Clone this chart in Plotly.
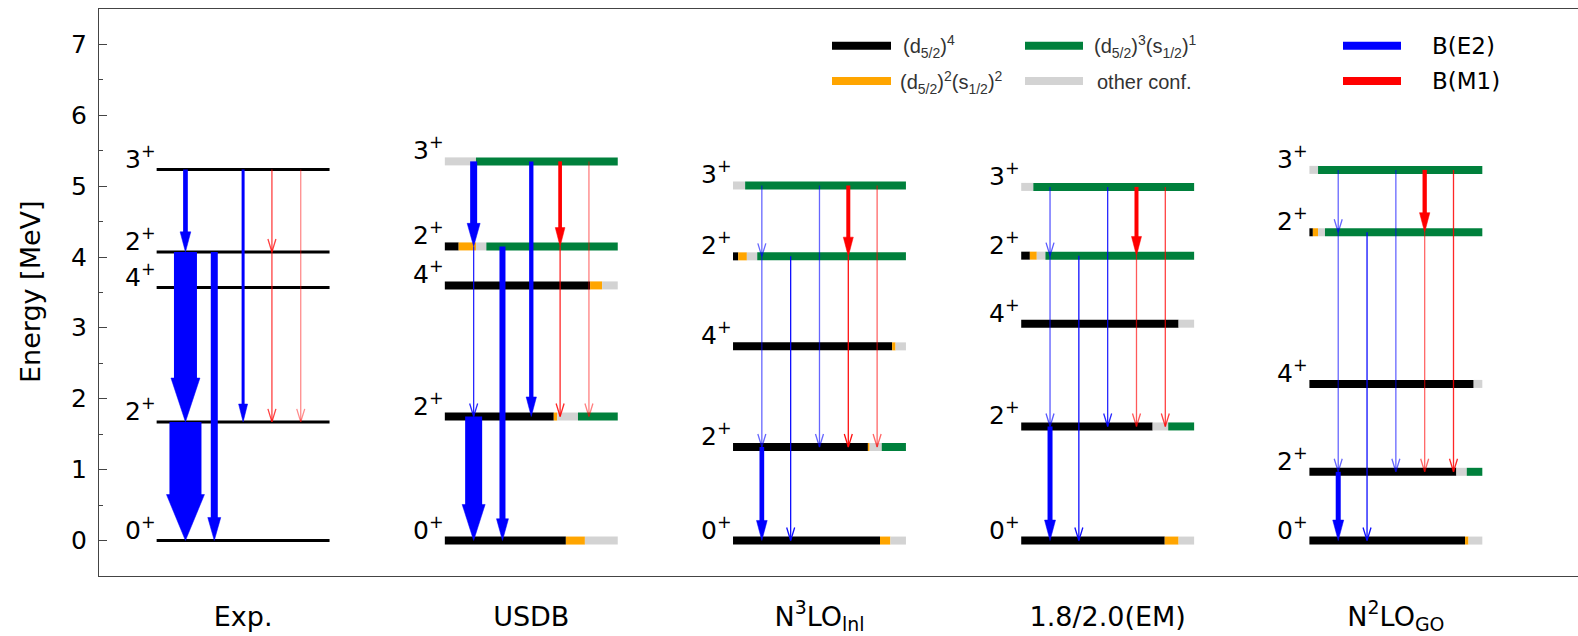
import plotly.graph_objects as go

# ---------------- data ----------------
columns = ["Exp.", "USDB", "N<sup>3</sup>LO<sub>lnl</sub>", "1.8/2.0(EM)", "N<sup>2</sup>LO<sub>GO</sub>"]
spins = ["0<sup>+</sup>", "2<sup>+</sup>", "4<sup>+</sup>", "2<sup>+</sup>", "3<sup>+</sup>"]

# level energies [MeV]: 0+, 2+_1, 4+, 2+_2, 3+
energy_exp = [0.0, 1.674, 3.570, 4.072, 5.235]
energy_usdb = [0.0, 1.75, 3.60, 4.15, 5.35]
energy_n3lo = [0.0, 1.32, 2.74, 4.01, 5.01]
energy_em = [0.0, 1.61, 3.06, 4.02, 4.99]
energy_n2lo = [0.0, 0.97, 2.21, 4.35, 5.23]

# configuration content (%) for theory columns (USDB, N3LO, EM, N2LO), per level
conf_d4 = [[70, 63, 84, 8, 0], [85, 78, 92, 3, 0], [83, 76, 91, 5, 0], [90, 85, 95, 2, 0]]
conf_d2s2 = [[11, 2, 7, 10, 0], [6, 1, 2, 5, 0], [8, 0, 0, 4, 0], [2, 0, 0, 3, 0]]
conf_other = [[19, 12, 9, 6, 18], [9, 7, 6, 6, 7], [9, 9, 9, 5, 7], [8, 6, 5, 4, 5]]
conf_d3s1 = [[0, 23, 0, 76, 82], [0, 14, 0, 86, 93], [0, 15, 0, 86, 93], [0, 9, 0, 91, 95]]

# transitions (from level, to level, type) and relative strengths per column
trans_from = [4, 3, 1, 3, 4, 4, 3, 4]
trans_to = [3, 1, 0, 0, 1, 3, 1, 1]
trans_type = ["E2", "E2", "E2", "E2", "E2", "M1", "M1", "M1"]
strength = [
    [4.7, 7.0, 0.6, 0.65, 0.6],    # 3+ -> 2+_2 E2
    [23.0, 0.85, 0.6, 0.65, 0.6],  # 2+_2 -> 2+_1 E2
    [32.0, 17.0, 4.7, 5.0, 5.0],   # 2+_1 -> 0+ E2
    [7.0, 6.0, 0.95, 0.95, 0.95],  # 2+_2 -> 0+ E2
    [3.0, 4.3, 0.6, 0.85, 0.6],    # 3+ -> 2+_1 E2
    [0.75, 3.7, 4.0, 4.0, 4.3],    # 3+ -> 2+_2 M1
    [0.75, 0.85, 0.95, 0.65, 0.6], # 2+_2 -> 2+_1 M1
    [0.45, 0.5, 0.6, 0.75, 0.85],  # 3+ -> 2+_1 M1
]
y_ticks = [0, 1, 2, 3, 4, 5, 6, 7]

# ---------------- layout geometry ----------------
W, H = 1578, 636
ML, MR, MT, MB = 99, 0, 9, 60
XR = [-0.5, 4.632]
YR = [-0.5, 7.5]
PXX = (W - ML - MR) / (XR[1] - XR[0])
PXY = (H - MT - MB) / (YR[1] - YR[0])
HALF = 0.3
slot_of = [1, 1, 1, 2, 3, 4, 4, 5]

conf_colors = ["#000000", "#ffa500", "#d3d3d3", "#00803c"]
energies = [energy_exp, energy_usdb, energy_n3lo, energy_em, energy_n2lo]

fig = go.Figure()


def seg(x0, x1, y, color, width):
    fig.add_trace(go.Scatter(x=[x0, x1], y=[y, y], mode="lines",
                             line=dict(color=color, width=width),
                             showlegend=False, hoverinfo="skip"))


# levels
for c, en in enumerate(energies):
    for li, e in enumerate(en):
        x0 = c - HALF
        if c == 0:
            seg(x0, c + HALF, e, "#000000", 3)
        else:
            fr = [conf_d4[c - 1][li], conf_d2s2[c - 1][li], conf_other[c - 1][li], conf_d3s1[c - 1][li]]
            tot = sum(fr)
            pos = x0
            for f, col in zip(fr, conf_colors):
                if f <= 0:
                    continue
                x1 = pos + 2 * HALF * f / tot
                seg(pos, x1, e, col, 8)
                pos = x1


def rgba(kind, a):
    return f"rgba(0,0,255,{a})" if kind == "E2" else f"rgba(255,0,0,{a})"


def arrow(x, y0, y1, kind, s):
    if s >= 1:
        w = s
        col = rgba(kind, 1)
        hw = (6 + w) / 2 / PXX
        hl = min(14 + 1.3 * w, 46) / PXY
        fig.add_trace(go.Scatter(x=[x, x], y=[y0, y1 + hl * 0.9], mode="lines",
                                 line=dict(color=col, width=w),
                                 showlegend=False, hoverinfo="skip"))
        fig.add_trace(go.Scatter(x=[x - hw, x + hw, x, x - hw], y=[y1 + hl, y1 + hl, y1, y1 + hl],
                                 mode="lines", fill="toself", fillcolor=col,
                                 line=dict(color=col, width=0.5),
                                 showlegend=False, hoverinfo="skip"))
    else:
        a = max(0.35, s)
        col = rgba(kind, a)
        hw = 4 / PXX
        hl = 13 / PXY
        fig.add_trace(go.Scatter(x=[x, x], y=[y0, y1], mode="lines",
                                 line=dict(color=col, width=1.3),
                                 showlegend=False, hoverinfo="skip"))
        fig.add_trace(go.Scatter(x=[x - hw, x, x + hw], y=[y1 + hl, y1, y1 + hl], mode="lines",
                                 line=dict(color=col, width=1.3),
                                 showlegend=False, hoverinfo="skip"))


for c, en in enumerate(energies):
    for t in range(len(trans_from)):
        x = c - HALF + slot_of[t] * (2 * HALF / 6)
        arrow(x, en[trans_from[t]], en[trans_to[t]], trans_type[t], strength[t][c])

annotations = []
# level labels
for c, en in enumerate(energies):
    for li, e in enumerate(en):
        annotations.append(dict(x=c - HALF, y=e, xref="x", yref="y", text=spins[li],
                                showarrow=False, xanchor="right", yanchor="bottom",
                                xshift=1, yshift=-6,
                                font=dict(family="DejaVu Sans", size=25, color="black")))

# y tick labels (placed just left of the axis line)
for v in y_ticks:
    annotations.append(dict(x=0, y=v, xref="paper", yref="y", text=str(v), showarrow=False,
                            xanchor="right", yanchor="middle", xshift=-10,
                            font=dict(family="DejaVu Sans", size=25, color="black")))


def pp(px, py):
    return (px - ML) / (W - ML - MR), (H - MB - py) / (H - MT - MB)


shapes = []
legend_conf = [
    ("(d<sub>5/2</sub>)<sup>4</sup>", conf_colors[0], 832, 891, 45.7, 901),
    ("(d<sub>5/2</sub>)<sup>3</sup>(s<sub>1/2</sub>)<sup>1</sup>", conf_colors[3], 1025, 1083, 45.7, 1092),
    ("(d<sub>5/2</sub>)<sup>2</sup>(s<sub>1/2</sub>)<sup>2</sup>", conf_colors[1], 832, 891, 81, 898),
    ("other conf.", conf_colors[2], 1025, 1083, 81, 1095),
]
for txt, col, a, b, yy, tx in legend_conf:
    x0, y0 = pp(a, yy)
    x1, _ = pp(b, yy)
    shapes.append(dict(type="line", xref="paper", yref="paper", x0=x0, x1=x1, y0=y0, y1=y0,
                       line=dict(color=col, width=8)))
    tx_, ty_ = pp(tx, yy + 1)
    annotations.append(dict(x=tx_, y=ty_, xref="paper", yref="paper", text=txt, showarrow=False,
                            xanchor="left", yanchor="middle",
                            font=dict(family="Liberation Sans", size=20, color="#333333")))

legend_tr = [("B(E2)", "#0000ff", 45.7), ("B(M1)", "#ff0000", 81)]
for txt, col, yy in legend_tr:
    x0, y0 = pp(1343, yy)
    x1, _ = pp(1401, yy)
    shapes.append(dict(type="line", xref="paper", yref="paper", x0=x0, x1=x1, y0=y0, y1=y0,
                       line=dict(color=col, width=8)))
    tx_, ty_ = pp(1430, yy)
    annotations.append(dict(x=tx_, y=ty_, xref="paper", yref="paper", text=txt, showarrow=False,
                            xanchor="left", yanchor="middle",
                            font=dict(family="DejaVu Sans", size=23, color="black")))

# y-axis title
tx_, ty_ = pp(30, 292)
annotations.append(dict(x=tx_, y=ty_, xref="paper", yref="paper", text="Energy [MeV]",
                        showarrow=False, textangle=-90, xanchor="center", yanchor="middle",
                        font=dict(family="DejaVu Sans", size=27, color="black")))

fig.update_layout(
    width=W, height=H,
    margin=dict(l=ML, r=MR, t=MT, b=MB, autoexpand=False),
    plot_bgcolor="white", paper_bgcolor="white",
    font=dict(family="DejaVu Sans", size=25, color="black"),
    showlegend=False,
    annotations=annotations,
    shapes=shapes,
    xaxis=dict(range=XR, tickvals=list(range(5)), ticktext=columns, showgrid=False, zeroline=False,
               showline=True, mirror=True, linecolor="#444444", linewidth=1.2, ticks="",
               automargin=False,
               ticklabelstandoff=16, tickfont=dict(family="DejaVu Sans", size=27, color="black")),
    yaxis=dict(range=YR, tickvals=y_ticks, showticklabels=False, showgrid=False, zeroline=False,
               showline=True, mirror=False, linecolor="#444444", linewidth=1.2,
               ticks="inside", ticklen=8, tickwidth=1, tickcolor="#444444", automargin=False,
               minor=dict(dtick=0.5, tick0=0, ticks="inside", ticklen=4, tickcolor="#444444")),
)

fig.write_html("out.html")
